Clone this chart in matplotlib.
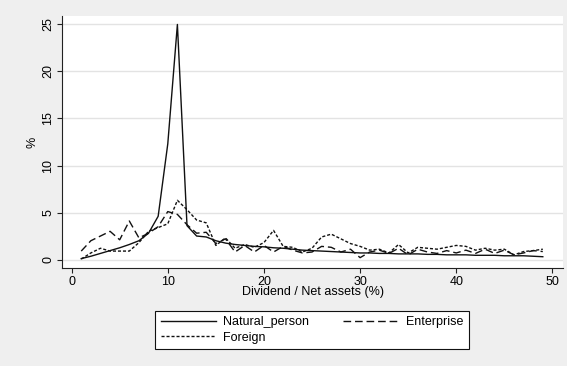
import numpy as np
import matplotlib
matplotlib.use("Agg")
import matplotlib.pyplot as plt

plt.rcParams['font.family'] = ['Liberation Sans', 'DejaVu Sans']

# Share of firms (%) at each dividend / net assets ratio, by controlling shareholder type
ratio = list(range(1, 50))
natural_person = [0.1, 0.35, 0.65, 0.95, 1.25, 1.6, 2.0, 2.8, 4.6, 12.3,
                  25.0, 3.6, 2.5, 2.4, 2.0, 1.75, 1.6, 1.5, 1.4, 1.35,
                  1.25, 1.2, 1.1, 1.0, 0.95, 0.9, 0.85, 0.8, 0.75, 0.7,
                  0.7, 0.65, 0.65, 0.6, 0.6, 0.6, 0.55, 0.55, 0.5, 0.5,
                  0.5, 0.45, 0.45, 0.45, 0.4, 0.4, 0.4, 0.35, 0.3]
enterprise = [0.9, 2.0, 2.5, 3.0, 2.1, 4.1, 2.3, 2.8, 3.5, 5.1,
              4.8, 3.7, 2.8, 2.9, 1.7, 2.2, 0.8, 1.5, 0.8, 1.5,
              0.8, 1.4, 1.0, 0.7, 0.8, 1.4, 1.3, 0.8, 1.1, 0.2,
              0.8, 1.0, 0.65, 1.2, 0.5, 1.1, 0.8, 0.65, 0.95, 0.7,
              1.0, 0.65, 1.1, 0.65, 1.0, 0.5, 0.7, 0.95, 0.85]
foreign = [0.05, 0.7, 1.2, 0.9, 0.9, 0.9, 1.8, 3.0, 3.4, 3.8,
           6.3, 5.3, 4.2, 3.9, 1.5, 2.3, 1.2, 1.6, 1.3, 1.8,
           3.1, 1.4, 1.3, 0.8, 1.2, 2.4, 2.7, 2.2, 1.7, 1.4,
           1.0, 1.1, 0.7, 1.6, 0.7, 1.3, 1.2, 1.1, 1.3, 1.5,
           1.4, 1.0, 1.2, 1.0, 1.1, 0.5, 0.85, 0.95, 1.1]

x_ticks = [0, 10, 20, 30, 40, 50]
y_ticks = [0, 5, 10, 15, 20, 25]

bg = '#efefef'
fig = plt.figure(figsize=(5.67, 3.66), dpi=100, facecolor=bg)
ax = fig.add_axes([62 / 567, 1 - 268 / 366, 501 / 567, 252 / 366])
ax.set_facecolor('white')

l_nat, = ax.plot(ratio, natural_person, color='#111111', lw=1.0, ls='-', label='Natural_person')
l_ent, = ax.plot(ratio, enterprise, color='#111111', lw=1.0, ls=(0, (5.5, 2.8)), label='Enterprise')
l_for, = ax.plot(ratio, foreign, color='#111111', lw=1.0, ls=(0, (2.2, 1.4)), label='Foreign')

ax.set_xlim(-1, 51.1)
ax.set_ylim(-0.9, 25.9)
ax.set_xticks(x_ticks)
ax.set_yticks(y_ticks)
ax.set_yticklabels([str(v) for v in y_ticks], rotation=90, va='center')
ax.tick_params(axis='both', direction='out', length=3.6, width=0.8, labelsize=9,
               color='#222222', pad=2)
ax.grid(axis='y', color='#e3e3e3', lw=1.0)
ax.set_axisbelow(True)

for side in ['top', 'right']:
    ax.spines[side].set_visible(False)
for side in ['left', 'bottom']:
    ax.spines[side].set_color('#222222')
    ax.spines[side].set_linewidth(0.8)

ax.set_xlabel('Dividend / Net assets (%)', fontsize=9, labelpad=-1)
ax.set_ylabel('%', fontsize=9, labelpad=3)

# legend filled row by row: Natural_person, Enterprise / Foreign
leg = fig.legend(handles=[l_nat, l_for, l_ent], loc='center',
                 bbox_to_anchor=(312 / 567, 1 - 330 / 366), ncol=2,
                 fontsize=9, handlelength=4.4, handletextpad=0.6, columnspacing=2.7,
                 labelspacing=0.25, borderpad=0.45, borderaxespad=0, frameon=True,
                 fancybox=False, edgecolor='#111111', facecolor='white', framealpha=1)
leg.get_frame().set_linewidth(0.8)

fig.savefig('out.png', dpi=100, facecolor=bg)
